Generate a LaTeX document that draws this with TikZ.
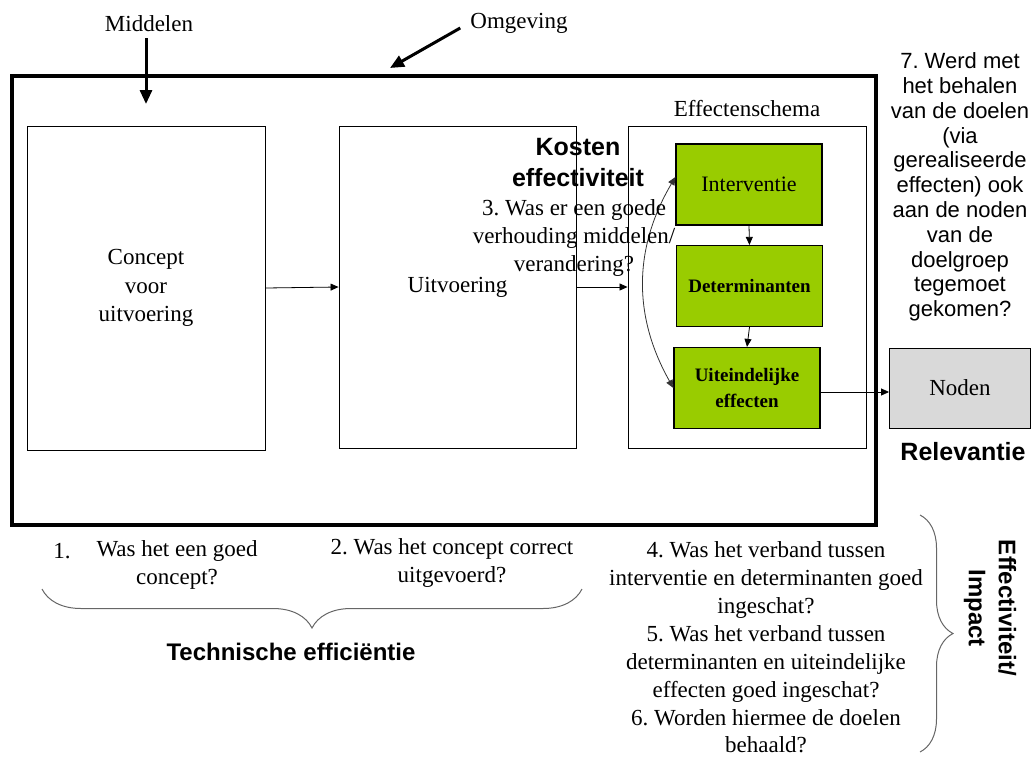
\documentclass[tikz,border=0pt]{standalone}
\usepackage{fontspec}
\setmainfont{Liberation Serif}
\setsansfont{Liberation Sans}
\usepackage{tikz}
\usetikzlibrary{arrows.meta, positioning, decorations.pathreplacing}
\definecolor{effgreen}{RGB}{153,204,0}
\definecolor{nodengray}{RGB}{217,217,217}
\frenchspacing

\begin{document}
\begin{tikzpicture}[x=1pt, y=-1pt,
    box/.style={draw, line width=0.9pt, inner sep=0pt, align=center, font=\fontsize{23}{28.5}\selectfont},
    effbox/.style={draw, line width=1.2pt, fill=effgreen, inner sep=0pt, minimum width=146pt, minimum height=81pt, align=center},
    serif/.style={inner sep=0pt, align=center, font=\fontsize{23}{28}\selectfont},
    sans/.style={inner sep=0pt, align=center, font=\sffamily\fontsize{22}{24.8}\selectfont},
    sansbold/.style={inner sep=0pt, align=center, font=\sffamily\bfseries\fontsize{24}{30}\selectfont},
    arr/.style={-{Triangle[length=8pt, width=7pt]}, line width=0.8pt},
    dblarr/.style={{Triangle[length=8pt, width=7pt]}-{Triangle[length=8pt, width=7pt]}, line width=0.8pt, draw=black!80},
    bigarr/.style={-{Triangle[length=14pt, width=12pt]}, line width=3pt},
    curly/.style={decorate, draw=black!60, line width=1pt}
]
    \useasboundingbox (0,0) rectangle (1031,756);

    \node[draw, line width=4pt, minimum width=864pt, minimum height=449pt] (omgeving) at (444,300.5) {};
    \node[serif] (middlabel) at (149,24) {Middelen};
    \node[serif] (omglabel) at (519,23) {Omgeving};
    \coordinate (middin) at (146,104);
    \coordinate (omgin) at (390,68);
    \draw[bigarr] ([xshift=-3pt, yshift=-6pt]middlabel.south) -- (middin);
    \draw[bigarr] ([xshift=-10pt, yshift=-5pt]omglabel.west) -- (omgin);

    \node[box, minimum width=238pt, minimum height=324pt] (concept) at (146,288) {Concept\\voor\\uitvoering};
    \node[box, minimum width=237pt, minimum height=322pt] (uitvoering) at (457.5,287) {Uitvoering};
    \node[box, minimum width=238pt, minimum height=322pt] (schema) at (747,287) {};
    \node[serif] (schemalabel) at (747,109) {Effectenschema};

    \node[effbox, font=\fontsize{22}{26}\selectfont] (interventie) at (749,184.5) {Interventie};
    \node[effbox, font=\bfseries\fontsize{19}{26}\selectfont] (determinanten) at (749.5,286) {Determinanten};
    \node[effbox, font=\bfseries\fontsize{19}{26}\selectfont] (uiteindelijk) at (747,388) {Uiteindelijke\\effecten};
    \node[box, fill=nodengray, minimum width=141pt, minimum height=80pt] (noden) at (960,388) {Noden};
    \node[sansbold, font=\sffamily\bfseries\fontsize{25}{30}\selectfont] (relevantie) at (963,452) {Relevantie};

    \draw[arr] (concept.east) -- (uitvoering.west);
    \draw[arr] (uitvoering.east) -- (schema.west);
    \draw[arr] (interventie.south) -- (determinanten.north);
    \draw[arr] (determinanten.south) -- (uiteindelijk.north);
    \draw[arr] ([yshift=-4pt]uiteindelijk.east) -- ([yshift=-4pt]noden.west);
    \draw[dblarr] ([yshift=7.5pt]interventie.west) to[bend right=30] (uiteindelijk.west);

    \node[sansbold, font=\sffamily\bfseries\fontsize{25}{31}\selectfont] (kosten) at (578,162.5) {Kosten\\effectiviteit};
    \node[serif] (vraag3) at (574,238) {3. Was er een goede\\verhouding middelen/\\verandering?};
    \node[sans] (vraag7) at (960,187) {7. Werd met\\het behalen\\van de doelen\\(via\\gerealiseerde\\effecten) ook\\aan de noden\\van de\\doelgroep\\tegemoet\\gekomen?};

    \node[serif] (nr1) at (62,551) {1.};
    \node[serif] (vraag1) at (177,565) {Was het een goed\\concept?};
    \node[serif] (vraag2) at (452,563) {2. Was het concept correct\\uitgevoerd?};
    \node[serif, font=\fontsize{23}{27.9}\selectfont] (vraag456) at (766,647.5) {4. Was het verband tussen\\interventie en determinanten goed\\ingeschat?\\5. Was het verband tussen\\determinanten en uiteindelijke\\effecten goed ingeschat?\\6. Worden hiermee de doelen\\behaald?};

    \coordinate (techl) at (42,589);
    \coordinate (techr) at (582,589);
    \coordinate (effu) at (920,515);
    \coordinate (effd) at (920,752);
    \draw[curly, decoration={brace, mirror, amplitude=39pt}] (techl) -- (techr);
    \draw[curly, decoration={brace, amplitude=33pt}] (effu) -- (effd);
    \node[sansbold] (technisch) at (291,652) {Technische efficiëntie};
    \node[sansbold, rotate=-90] (effectiviteit) at (990,608) {Effectiviteit/\\Impact};
\end{tikzpicture}
\end{document}
